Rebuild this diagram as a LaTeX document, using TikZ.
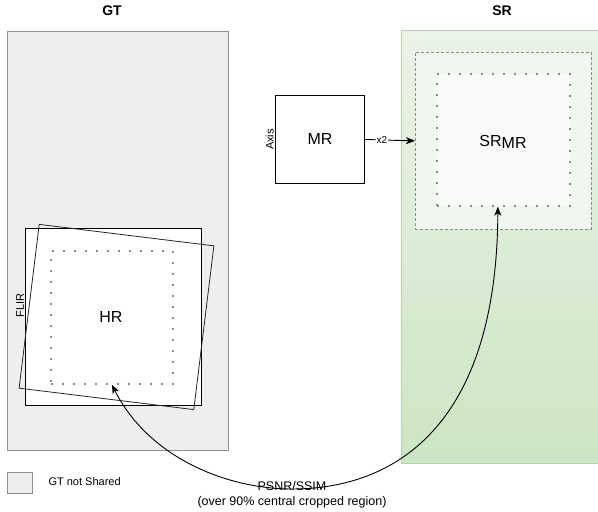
\documentclass[tikz,border=0pt]{standalone}
\usepackage{fontspec}
\setmainfont{Liberation Sans}
\usetikzlibrary{arrows.meta,calc}
\definecolor{gtfill}{HTML}{EEEEEE}
\definecolor{gtline}{HTML}{8F8F8F}
\definecolor{srtop}{HTML}{EAF3E7}
\definecolor{srbot}{HTML}{CCE5C3}
\definecolor{srline}{HTML}{B3D4A4}
\definecolor{dashfill}{HTML}{F0F7EE}
\definecolor{dotfill}{HTML}{F8FBF7}
\definecolor{dotline}{HTML}{8A8A8A}
\tikzset{
  regionbox/.style={draw=gtline, fill=gtfill, line width=0.8pt, inner sep=0pt, anchor=north west},
  imgbox/.style={draw=black, fill=white, line width=0.9pt, inner sep=0pt, anchor=north west},
  dashbox/.style={draw=dotline, fill=dashfill, line width=0.8pt, dash pattern=on 3pt off 2pt, inner sep=0pt, anchor=north west},
  dotbox/.style={draw=dotline, line width=1.7pt, dash pattern=on 1.7pt off 9.3pt, inner sep=0pt, anchor=north west},
  titletext/.style={font=\fontsize{14}{16}\selectfont\bfseries},
  bigtext/.style={font=\fontsize{16}{19}\selectfont},
  sidetext/.style={font=\fontsize{11}{13}\selectfont, rotate=90, anchor=south, inner sep=1pt},
  smalltext/.style={font=\fontsize{11}{13}\selectfont},
  conn/.style={draw=black, line width=0.9pt},
  tip/.tip={Stealth[length=9pt,width=7pt,inset=2.5pt]}
}
\begin{document}
\begin{tikzpicture}[x=1pt,y=-1pt]
\useasboundingbox (0,0) rectangle (598,512);
% titles
\node[titletext] (gtt) at (112,11) {GT};
\node[titletext] (srt) at (502,11) {SR};
% GT region
\node[regionbox, minimum width=221pt, minimum height=419pt] (gt) at (7,30.5) {};
% SR region
\path[draw=srline, line width=0.8pt, top color=srtop, bottom color=srbot] (401,30.5) rectangle (602,463.5);
\node[dashbox, minimum width=176pt, minimum height=177pt] (srout) at (415,52) {};
\node[dotbox, fill=dotfill, minimum width=133pt, minimum height=132pt] (srin) at (436,73) {};
\node[bigtext] (srmr) at (503,142) {SR\raisebox{-0.3ex}{MR}};
% MR
\node[imgbox, minimum width=89pt, minimum height=88pt] (mr) at (275,95) {};
\node[bigtext] (mrt) at (mr.center) {MR};
\node[sidetext] (axis) at (mr.west) {Axis};
\draw[conn, -{tip}] (mr.east) -- (srout.west)
  node[pos=0.34, fill=white, inner sep=0.8pt, font=\fontsize{10}{12}\selectfont] (x2) {x2};
% HR
\node[imgbox, minimum width=176pt, minimum height=177pt] (hr) at (25,228) {};
\node[dotbox, minimum width=122pt, minimum height=133pt] (hrin) at (50,250) {};
\node[draw=black!85, line width=0.8pt, minimum width=176pt, minimum height=165pt, inner sep=0pt, rotate=-7] (flirbox) at (116.5,317) {};
\node[bigtext] (hrt) at (111,317) {HR};
\node[sidetext] (flir) at ($(hr.west)+(0,-11.5)$) {FLIR};
% curve
\draw[conn, {tip}-{tip}] (hrin.south) .. controls (150,460) and (230,489) .. (292,489)
  .. controls (400,489) and (497,420) .. ([xshift=-5.5pt]srin.south);
\node[font=\fontsize{12.5}{15}\selectfont, align=center] (metric) at (292,494.5) {PSNR/SSIM\\(over 90\% central cropped region)};
% legend
\node[regionbox, minimum width=25pt, minimum height=21pt] (leg) at (7,471.5) {};
\node[smalltext, anchor=west] (legt) at (45,482) {GT not Shared};
\end{tikzpicture}
\end{document}
